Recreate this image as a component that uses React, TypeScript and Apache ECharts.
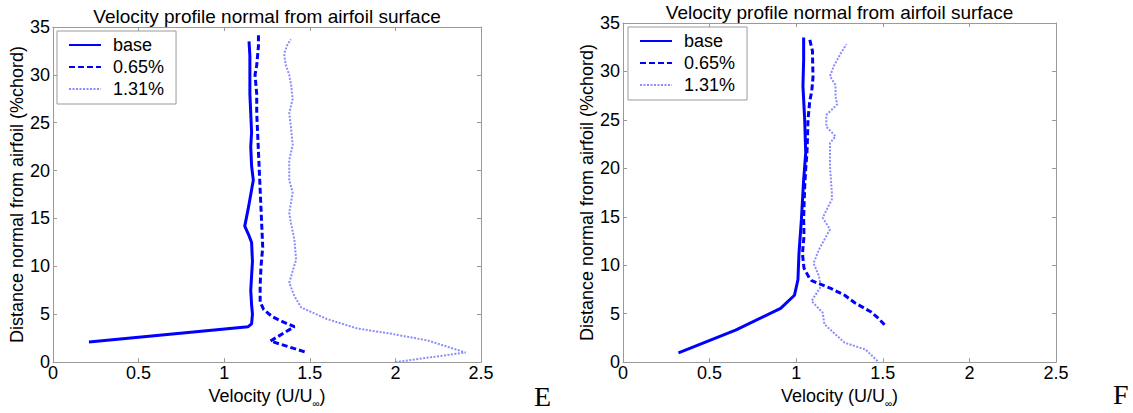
import React, { useEffect, useRef } from "react";
import * as echarts from "echarts";

const FONT = "'Liberation Sans', Arial, Helvetica, sans-serif";
const SERIF = "'Liberation Serif', 'Times New Roman', serif";

const titleText = "Velocity profile normal from airfoil surface";
const yAxisTitle = "Distance normal from airfoil (%chord)";
const seriesNames = ["base", "0.65%", "1.31%"];
const panelLabels = ["E", "F"];
const xMin = 0;
const xMax = 2.5;
const xStep = 0.5;
const yMin = 0;
const yMax = 35;
const yStep = 5;

// Panel E
const eBaseVel = [0.21, 1.14, 1.16, 1.165, 1.16, 1.155, 1.16, 1.165, 1.16, 1.145, 1.12, 1.14, 1.16, 1.17, 1.16, 1.155, 1.16, 1.155, 1.15, 1.15, 1.15, 1.145];
const eBaseDist = [2.1, 3.7, 4.0, 5.0, 6.0, 7.5, 9.0, 10.5, 12.5, 13.2, 14.2, 16.0, 18.0, 19.0, 20.5, 22.5, 24.0, 26.0, 28.0, 30.0, 32.0, 33.5];
const eMidVel = [1.47, 1.27, 1.41, 1.33, 1.28, 1.23, 1.21, 1.21, 1.215, 1.225, 1.22, 1.215, 1.21, 1.205, 1.2, 1.195, 1.19, 1.19, 1.18, 1.19, 1.2, 1.2];
const eMidDist = [1.07, 2.2, 3.7, 4.3, 4.75, 5.5, 6.3, 8.0, 10.0, 12.0, 14.0, 16.0, 18.0, 20.0, 22.0, 24.0, 26.0, 28.0, 30.0, 31.0, 33.0, 34.2];
const eHighVel = [2.0, 2.41, 2.19, 1.98, 1.78, 1.6, 1.45, 1.41, 1.38, 1.42, 1.41, 1.39, 1.38, 1.4, 1.38, 1.38, 1.4, 1.39, 1.38, 1.4, 1.39, 1.38, 1.36, 1.35, 1.37, 1.39];
const eHighDist = [0.0, 1.0, 2.25, 2.95, 3.5, 4.5, 5.7, 6.9, 8.3, 10.7, 12.8, 14.5, 15.6, 17.7, 19.0, 21.1, 22.7, 24.5, 26.0, 27.5, 29.0, 30.0, 31.0, 32.2, 33.2, 33.7];

// Panel F
const fBaseVel = [0.32, 0.65, 0.91, 0.99, 1.01, 1.016, 1.03, 1.043, 1.055, 1.049, 1.039, 1.043, 1.043];
const fBaseDist = [0.96, 3.3, 5.55, 6.9, 8.5, 11.2, 14.7, 18.8, 21.6, 25.0, 28.5, 31.2, 33.5];
const fMidVel = [1.51, 1.47, 1.43, 1.34, 1.28, 1.2, 1.09, 1.075, 1.045, 1.036, 1.045, 1.043, 1.045, 1.049, 1.055, 1.062, 1.065, 1.068, 1.078, 1.09, 1.097, 1.095, 1.094, 1.078];
const fMidDist = [3.85, 4.6, 5.2, 6.1, 6.9, 7.6, 8.4, 8.7, 9.7, 11.2, 13.0, 14.7, 16.0, 18.1, 20.0, 21.6, 23.0, 25.0, 26.9, 28.0, 29.4, 31.0, 32.1, 33.3];
const fHighVel = [1.47, 1.4, 1.28, 1.163, 1.153, 1.089, 1.142, 1.131, 1.1, 1.131, 1.195, 1.153, 1.206, 1.206, 1.195, 1.195, 1.227, 1.174, 1.174, 1.237, 1.227, 1.227, 1.195, 1.216, 1.258, 1.29];
const fHighDist = [0.1, 1.3, 2.0, 3.9, 5.1, 6.3, 7.8, 8.9, 10.2, 11.6, 13.7, 14.9, 16.8, 17.5, 20.2, 22.6, 23.3, 24.3, 25.5, 26.6, 27.4, 28.6, 29.5, 30.5, 31.9, 32.8];

const zip = (xs: number[], ys: number[]) => xs.map((x, i) => [x, ys[i]]);

const GRAY = "#9a9a9a";
const lineStyles = [
  { color: "#0000ff", width: 3, type: "solid" },
  { color: "#0000ff", width: 3, type: [6, 3] },
  { color: "#8c8cff", width: 2, type: [2, 1.5] },
];

const grids = [
  { left: 53, top: 27, width: 428, height: 336 },
  { left: 623, top: 23, width: 433, height: 340 },
];

export default function App() {
  const ref = useRef<HTMLDivElement>(null);
  useEffect(() => {
    if (!ref.current) return;
    const chart = echarts.init(ref.current, undefined, { renderer: "svg" });

    const xAxes: any[] = [];
    const yAxes: any[] = [];
    grids.forEach((_, g) => {
      xAxes.push({
        gridIndex: g,
        type: "value",
        position: "bottom",
        min: xMin,
        max: xMax,
        interval: xStep,
        axisLine: { show: true, onZero: false, lineStyle: { color: GRAY, width: 1 } },
        axisTick: { show: true, inside: true, length: 4, lineStyle: { color: GRAY } },
        splitLine: { show: false },
        axisLabel: { color: "#000", fontSize: 18, fontFamily: FONT, margin: 2 },
        name: "{a|Velocity (U/U}{s|∞}{a|)}",
        nameLocation: "middle",
        nameGap: 18,
        nameTextStyle: {
          rich: {
            a: { fontSize: 18, color: "#000", fontFamily: FONT },
            s: { fontSize: 10, color: "#000", fontFamily: FONT, padding: [14, 0, 0, 0] },
          },
        },
      });
      xAxes.push({
        gridIndex: g,
        type: "value",
        position: "top",
        min: xMin,
        max: xMax,
        interval: xStep,
        axisLine: { show: true, onZero: false, lineStyle: { color: GRAY, width: 1 } },
        axisTick: { show: true, inside: true, length: 4, lineStyle: { color: GRAY } },
        splitLine: { show: false },
        axisLabel: { show: false },
      });
      yAxes.push({
        gridIndex: g,
        type: "value",
        position: "left",
        min: yMin,
        max: yMax,
        interval: yStep,
        axisLine: { show: true, onZero: false, lineStyle: { color: GRAY, width: 1 } },
        axisTick: { show: true, inside: true, length: 4, lineStyle: { color: GRAY } },
        splitLine: { show: false },
        axisLabel: { color: "#000", fontSize: 18, fontFamily: FONT, margin: 3 },
        name: yAxisTitle,
        nameLocation: "middle",
        nameRotate: 90,
        nameGap: 21,
        nameTextStyle: { fontSize: 18, color: "#000", fontFamily: FONT },
      });
      yAxes.push({
        gridIndex: g,
        type: "value",
        position: "right",
        min: yMin,
        max: yMax,
        interval: yStep,
        axisLine: { show: true, onZero: false, lineStyle: { color: GRAY, width: 1 } },
        axisTick: { show: true, inside: true, length: 4, lineStyle: { color: GRAY } },
        splitLine: { show: false },
        axisLabel: { show: false },
      });
    });

    const panels = [
      [zip(eBaseVel, eBaseDist), zip(eMidVel, eMidDist), zip(eHighVel, eHighDist)],
      [zip(fBaseVel, fBaseDist), zip(fMidVel, fMidDist), zip(fHighVel, fHighDist)],
    ];

    const series: any[] = [];
    panels.forEach((sets, g) => {
      sets.forEach((data, k) => {
        series.push({
          type: "line",
          name: seriesNames[k],
          xAxisIndex: g * 2,
          yAxisIndex: g * 2,
          data,
          symbol: "none",
          showSymbol: false,
          lineStyle: lineStyles[k],
          itemStyle: { color: lineStyles[k].color },
          z: 3 - k,
        });
      });
    });

    const legendBoxes = [
      { left: 57, top: 31 },
      { left: 628, top: 27 },
    ];

    chart.setOption({
      animation: false,
      backgroundColor: "#fff",
      title: grids.map((gr, g) => ({
        text: titleText,
        left: gr.left + gr.width / 2,
        top: g === 0 ? 7 : 3,
        textAlign: "center",
        padding: 0,
        textStyle: { fontSize: 19, fontWeight: "normal", color: "#000", fontFamily: FONT },
      })),
      legend: legendBoxes.map((b) => ({
        orient: "vertical",
        left: b.left,
        top: b.top,
        data: seriesNames,
        itemWidth: 32,
        itemHeight: 14,
        itemGap: 4,
        padding: [5, 12, 6, 11],
        borderColor: GRAY,
        borderWidth: 1,
        backgroundColor: "#fff",
        selectedMode: false,
        itemStyle: { opacity: 0 },
        textStyle: { fontSize: 18, color: "#000", fontFamily: FONT, lineHeight: 18, padding: [0, 0, 0, 7] },
      })),
      grid: grids.map((gr) => ({ ...gr, containLabel: false })),
      xAxis: xAxes,
      yAxis: yAxes,
      series,
      graphic: [
        { type: "text", left: 534, top: 382, style: { text: panelLabels[0], fontSize: 28, fontFamily: SERIF, fill: "#000" } },
        { type: "text", left: 1113, top: 380, style: { text: panelLabels[1], fontSize: 28, fontFamily: SERIF, fill: "#000" } },
      ],
    });
    return () => chart.dispose();
  }, []);
  return <div ref={ref} style={{ position: "absolute", left: 0, top: 0, width: 1133, height: 413 }} />;
}
